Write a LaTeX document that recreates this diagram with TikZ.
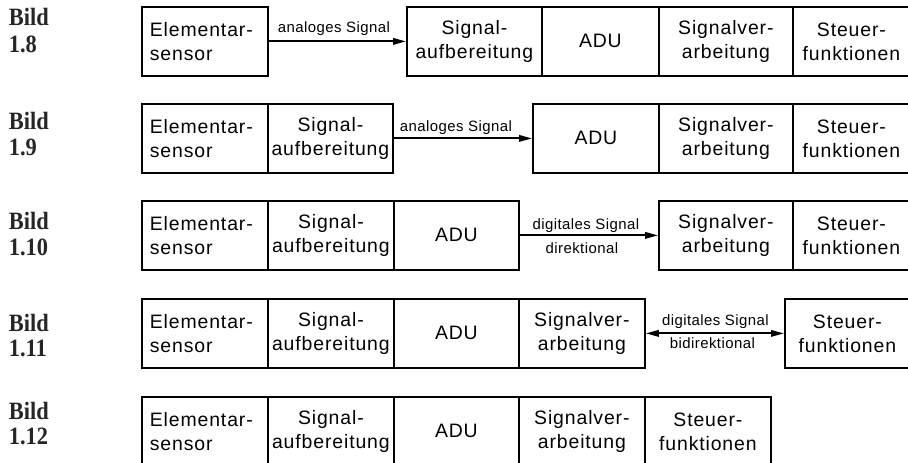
\documentclass[tikz,border=0pt]{standalone}
\usepackage{fontspec}
\setmainfont{Liberation Sans}
\newfontfamily\boxfont[LetterSpace=4.5]{Liberation Sans}
\newfontfamily\lblfont[LetterSpace=3]{Liberation Sans}
\newfontfamily\bildfont{Liberation Serif}
\usetikzlibrary{arrows.meta,calc}
\newcommand{\bildtxt}[1]{\scalebox{0.9}[1]{#1}}
\begin{document}
\begin{tikzpicture}[x=1bp,y=-1bp,
  blk/.style={draw, line width=1.8bp, minimum height=69bp, minimum width=#1,
    inner sep=0pt, anchor=north west, align=center,
    font=\boxfont\fontsize{19.5}{24}\selectfont},
  blkl/.style={blk=#1, align=left, text width=#1-16bp},
  sig/.style={line width=1.8bp, -{Triangle[length=13bp,width=6.5bp]}},
  bisig/.style={line width=1.8bp, {Triangle[length=13bp,width=6.5bp]}-{Triangle[length=13bp,width=6.5bp]}},
  lbl/.style={inner sep=0pt, anchor=base, font=\lblfont\fontsize{15}{17}\selectfont},
  bild/.style={inner sep=0pt, anchor=base west, text=black!85,
    font=\bildfont\bfseries\fontsize{25}{26}\selectfont}
]
\useasboundingbox (0,0) rectangle (908,463);
\fill[white] (0,0) rectangle (908,463);

% labels
\node[bild] (b1a) at (8.7,26) {\bildtxt{Bild}};
\node[bild] (b1b) at (8.7,52.5) {\bildtxt{1.8}};
\node[bild] (b2a) at (8.7,129.3) {\bildtxt{Bild}};
\node[bild] (b2b) at (8.7,155.7) {\bildtxt{1.9}};
\node[bild] (b3a) at (8.7,230) {\bildtxt{Bild}};
\node[bild] (b3b) at (8.7,256) {\bildtxt{1.10}};
\node[bild] (b4a) at (8.7,331.7) {\bildtxt{Bild}};
\node[bild] (b4b) at (8.7,357) {\bildtxt{1.11}};
\node[bild] (b5a) at (8.7,419) {\bildtxt{Bild}};
\node[bild] (b5b) at (8.7,444) {\bildtxt{1.12}};

% row 1
\node[blkl=126bp] (e1) at (141,6) {Elementar-\\sensor};
\node[blk=135bp] (s1) at (406,6) {Signal-\\aufbereitung};
\node[blk=117bp] (a1) at (541,6) {ADU};
\node[blk=134bp] (v1) at (658,6) {Signalver-\\arbeitung};
\node[blk=117bp] (f1) at (792,6) {Steuer-\\funktionen};
\draw[sig] (e1.east) -- (s1.west);
\node[lbl] (l1) at ($(e1.east)!0.5!(s1.west)+(-3.5,-9.3)$) {analoges Signal};

% row 2
\node[blkl=126bp] (e2) at (141,103) {Elementar-\\sensor};
\node[blk=125bp] (s2) at (267,103) {Signal-\\aufbereitung};
\node[blk=126bp] (a2) at (532,103) {ADU};
\node[blk=134bp] (v2) at (658,103) {Signalver-\\arbeitung};
\node[blk=117bp] (f2) at (792,103) {Steuer-\\funktionen};
\draw[sig] (s2.east) -- (a2.west);
\node[lbl] (l2) at ($(s2.east)!0.5!(a2.west)+(-7,-6.5)$) {analoges Signal};

% row 3
\node[blkl=126bp] (e3) at (141,200) {Elementar-\\sensor};
\node[blk=126bp] (s3) at (267,200) {Signal-\\aufbereitung};
\node[blk=125bp] (a3) at (393,200) {ADU};
\node[blk=134bp] (v3) at (658,200) {Signalver-\\arbeitung};
\node[blk=117bp] (f3) at (792,200) {Steuer-\\funktionen};
\draw[sig] (a3.east) -- (v3.west);
\node[lbl] (l3) at ($(a3.east)!0.5!(v3.west)+(-3,-6)$) {digitales Signal};
\node[lbl] (l3b) at ($(a3.east)!0.5!(v3.west)+(-7,17.7)$) {direktional};

% row 4
\node[blkl=126bp] (e4) at (141,298) {Elementar-\\sensor};
\node[blk=126bp] (s4) at (267,298) {Signal-\\aufbereitung};
\node[blk=125bp] (a4) at (393,298) {ADU};
\node[blk=126bp] (v4) at (518,298) {Signalver-\\arbeitung};
\node[blk=125bp] (f4) at (784,298) {Steuer-\\funktionen};
\draw[bisig] (v4.east) -- (f4.west);
\node[lbl] (l4) at ($(v4.east)!0.5!(f4.west)+(0.5,-8)$) {digitales Signal};
\node[lbl] (l4b) at ($(v4.east)!0.5!(f4.west)+(-2.5,15)$) {bidirektional};

% row 5
\node[blkl=126bp] (e5) at (141,396) {Elementar-\\sensor};
\node[blk=126bp] (s5) at (267,396) {Signal-\\aufbereitung};
\node[blk=125bp] (a5) at (393,396) {ADU};
\node[blk=126bp] (v5) at (518,396) {Signalver-\\arbeitung};
\node[blk=126bp] (f5) at (644,396) {Steuer-\\funktionen};
\end{tikzpicture}
\end{document}
